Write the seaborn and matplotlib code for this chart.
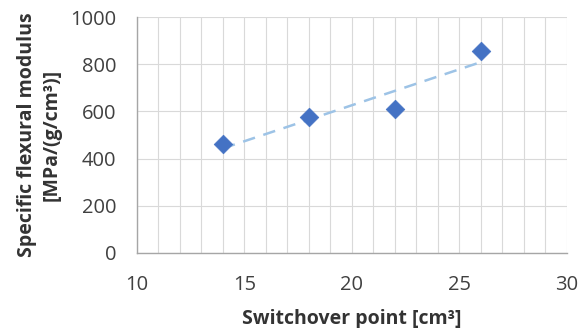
import matplotlib.pyplot as plt
import numpy as np
import pandas as pd
import seaborn as sns
from matplotlib.ticker import MultipleLocator

# values
switchover = [14, 18, 22, 26]
modulus = [460, 578, 612, 855]

df = pd.DataFrame({"x": switchover, "y": modulus})

sns.set_theme(style="white")
plt.rcParams['font.family'] = ['Open Sans', 'DejaVu Sans']

fig = plt.figure(figsize=(5.82, 3.28), dpi=100)
ax = fig.add_axes([0.2354, 0.2287, 0.7386, 0.7193])

sns.regplot(data=df, x="x", y="y", scatter=False, ci=None, ax=ax,
            line_kws=dict(color="#9DC3E6", lw=1.8, ls=(0, (5, 3.5))))
sns.scatterplot(data=df, x="x", y="y", marker="D", s=90, color="#4472C4",
                edgecolor="#4472C4", linewidth=0.5, ax=ax, zorder=5)

ax.set_xlim(10, 30)
ax.set_ylim(0, 1000)
ax.xaxis.set_major_locator(MultipleLocator(5))
ax.xaxis.set_minor_locator(MultipleLocator(1))
ax.yaxis.set_major_locator(MultipleLocator(200))

ax.grid(True, which="both", axis="x", color="#D9D9D9", lw=0.8)
ax.grid(True, which="major", axis="y", color="#D9D9D9", lw=0.8)
ax.set_axisbelow(True)

for s in ["top", "right"]:
    ax.spines[s].set_visible(False)
for s in ["left", "bottom"]:
    ax.spines[s].set_color("#A6A6A6")
    ax.spines[s].set_linewidth(1.0)

ax.tick_params(axis="both", which="major", direction="out", length=5, width=1,
               color="#A6A6A6", labelsize=14.5, labelcolor="#404040")
ax.tick_params(axis="x", which="major", pad=11)
ax.tick_params(axis="y", which="major", pad=10)
ax.tick_params(axis="x", which="minor", length=0)

ax.set_xlabel("Switchover point [cm³]", fontsize=14, fontweight="bold",
              color="#333333", labelpad=10)
ax.set_ylabel("Specific flexural modulus\n[MPa/(g/cm³)]", fontsize=14,
              fontweight="bold", color="#333333", labelpad=6,
              linespacing=1.3)

fig.savefig("out.png", dpi=100)
